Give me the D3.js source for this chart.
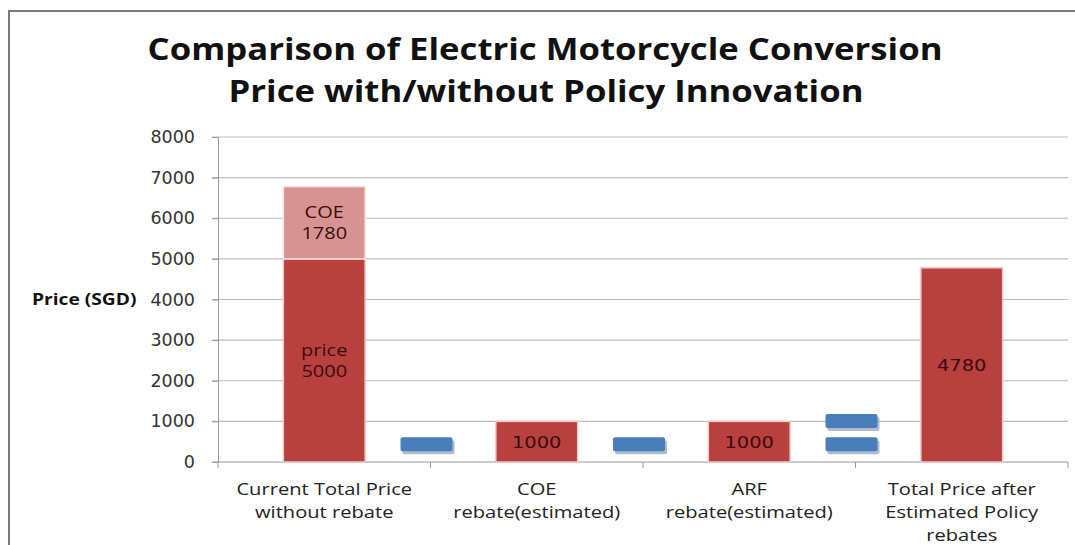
<!DOCTYPE html>
<html lang="en">
<head>
<meta charset="UTF-8">
<title>Electric Motorcycle Conversion Price</title>
<script src="https://d3js.org/d3.v7.min.js"></script>
<style>
  body { margin: 0; background: #fff; }
  svg { display: block; }
  .title { font-family: "Open Sans", Lato, sans-serif; font-weight: bold; font-size: 31px; fill: #111; }
  .tick text { font-family: "DejaVu Sans", Verdana, sans-serif; font-size: 17.5px; fill: #333; }
  .cat { font-family: "Open Sans", Lato, sans-serif; font-size: 16.5px; fill: #222; }
  .lbl { font-family: "Open Sans", sans-serif; font-size: 16px; fill: #3a0a0a; }
  .num { font-family: "DejaVu Sans", Verdana, sans-serif; font-size: 16.5px; fill: #3a0a0a; }
</style>
</head>
<body>
<svg width="1075" height="545"></svg>
<script>
// data
const categories = ["Current Total Price\nwithout rebate", "COE\nrebate(estimated)", "ARF\nrebate(estimated)", "Total Price after\nEstimated Policy\nrebates"];
const baseValues = [5000, 1000, 1000, 4780];
const coeValues = [1780, 0, 0, 0];
const baseLabels = ["price\n5000", "1000", "1000", "4780"];
const coeLabels = ["COE\n1780", "", "", ""];
const operators = ["minus", "minus", "equals"];
const yTicks = [0, 1000, 2000, 3000, 4000, 5000, 6000, 7000, 8000];

const svg = d3.select("svg");
const margin = {left: 218, right: 7, top: 137, bottom: 83};
const W = 1075, H = 545;

// the source picture is a bit stretched sideways, text too
function stretch(sel, cx, sx) {
  sel.attr("transform", `translate(${cx},0) scale(${sx},1) translate(${-cx},0)`);
}

// frame
svg.append("path").attr("d", `M9,${H} V11 H${W}`).attr("fill", "none").attr("stroke", "#7a7a7a").attr("stroke-width", 2);

// title
svg.append("text").attr("class", "title").attr("x", 545).attr("y", 60).attr("text-anchor", "middle")
  .text("Comparison of Electric Motorcycle Conversion").call(stretch, 545, 1.12);
svg.append("text").attr("class", "title").attr("x", 546).attr("y", 102).attr("text-anchor", "middle")
  .text("Price with/without Policy Innovation").call(stretch, 546, 1.12);

const x = d3.scaleBand().domain(categories).range([margin.left, W - margin.right]).padding(0);
const y = d3.scaleLinear().domain([0, 8000]).range([H - margin.bottom, margin.top]);
const barW = x.bandwidth() * 0.385;
const barX = d => x(d) + (x.bandwidth() - barW) / 2;

// gridlines
svg.append("g").selectAll("line").data(yTicks.slice(1)).join("line")
  .attr("x1", margin.left - 6).attr("x2", W - margin.right)
  .attr("y1", d => y(d)).attr("y2", d => y(d))
  .attr("stroke", "#bdbdbd").attr("stroke-width", 1.2);

// y axis
const yAxis = svg.append("g").attr("transform", `translate(${margin.left},0)`)
  .call(d3.axisLeft(y).tickValues(yTicks).tickFormat(d3.format("d")).tickSize(6).tickPadding(17));
yAxis.select(".domain").attr("stroke", "#9a9a9a");
yAxis.selectAll(".tick line").attr("stroke", "#9a9a9a");

svg.append("text").attr("x", 32).attr("y", 305)
  .attr("font-family", "'Open Sans', sans-serif").attr("font-weight", "bold").attr("font-size", 16).attr("fill", "#111")
  .text("Price (SGD)").call(stretch, 32, 1.2);

// x axis
const xAxisG = svg.append("g").attr("transform", `translate(0,${y(0)})`);
xAxisG.append("line").attr("x1", margin.left - 6).attr("x2", W - margin.right)
  .attr("stroke", "#9a9a9a").attr("stroke-width", 1.2);
xAxisG.selectAll(".xt").data(categories.concat(["end"])).join("line").attr("class", "xt")
  .attr("x1", (d, i) => i < categories.length ? x(d) : x.range()[1])
  .attr("x2", (d, i) => i < categories.length ? x(d) : x.range()[1])
  .attr("y1", 0).attr("y2", 6).attr("stroke", "#9a9a9a");

categories.forEach(c => {
  const cx = x(c) + x.bandwidth() / 2;
  const t = svg.append("text").attr("class", "cat").attr("text-anchor", "middle").call(stretch, cx, 1.22);
  c.split("\n").forEach((line, i) => {
    t.append("tspan").attr("x", cx).attr("y", 495 + i * 23).text(line);
  });
});

// bars
const bars = svg.append("g");
bars.selectAll(".base").data(categories).join("rect").attr("class", "base")
  .attr("x", d => barX(d)).attr("width", barW)
  .attr("y", (d, i) => y(baseValues[i])).attr("height", (d, i) => y(0) - y(baseValues[i]))
  .attr("fill", "#b8413f").attr("stroke", "#f3c9c6").attr("stroke-width", 1.5);
bars.selectAll(".coe").data(categories.filter((d, i) => coeValues[i] > 0)).join("rect").attr("class", "coe")
  .attr("x", d => barX(d)).attr("width", barW)
  .attr("y", d => { const i = categories.indexOf(d); return y(baseValues[i] + coeValues[i]); })
  .attr("height", d => { const i = categories.indexOf(d); return y(baseValues[i]) - y(baseValues[i] + coeValues[i]); })
  .attr("fill", "#d79391").attr("stroke", "#fbe3e1").attr("stroke-width", 1.5);

// bar labels
function addLabel(txt, cx, cy) {
  const lines = txt.split("\n");
  const single = lines.length === 1;
  const t = svg.append("text").attr("class", single ? "num" : "lbl").attr("text-anchor", "middle")
    .call(stretch, cx, single ? 1.18 : 1.25);
  lines.forEach((line, i) => {
    t.append("tspan").attr("x", cx).attr("y", cy + (i - (lines.length - 1) / 2) * 21 + 6).text(line);
  });
}
categories.forEach((c, i) => {
  const cx = x(c) + x.bandwidth() / 2;
  addLabel(baseLabels[i], cx, (y(0) + y(baseValues[i])) / 2);
  if (coeValues[i] > 0) addLabel(coeLabels[i], cx, (y(baseValues[i]) + y(baseValues[i] + coeValues[i])) / 2);
});

// operator signs between categories
const opW = 52, opH = 14;
const opBars = [];
operators.forEach((op, i) => {
  const cx = x(categories[i + 1]) - 4;
  if (op === "minus") opBars.push({cx, v: 440});
  else { opBars.push({cx, v: 1010}); opBars.push({cx, v: 440}); }
});
const ops = svg.append("g");
ops.selectAll(".shadow").data(opBars).join("rect").attr("class", "shadow")
  .attr("x", d => d.cx - opW / 2 + 2).attr("y", d => y(d.v) - opH / 2 + 3)
  .attr("width", opW).attr("height", opH).attr("rx", 2).attr("fill", "#8c9fb8").attr("opacity", 0.7);
ops.selectAll(".op").data(opBars).join("rect").attr("class", "op")
  .attr("x", d => d.cx - opW / 2).attr("y", d => y(d.v) - opH / 2)
  .attr("width", opW).attr("height", opH).attr("rx", 2).attr("fill", "#4a7ebb");
</script>
</body>
</html>
